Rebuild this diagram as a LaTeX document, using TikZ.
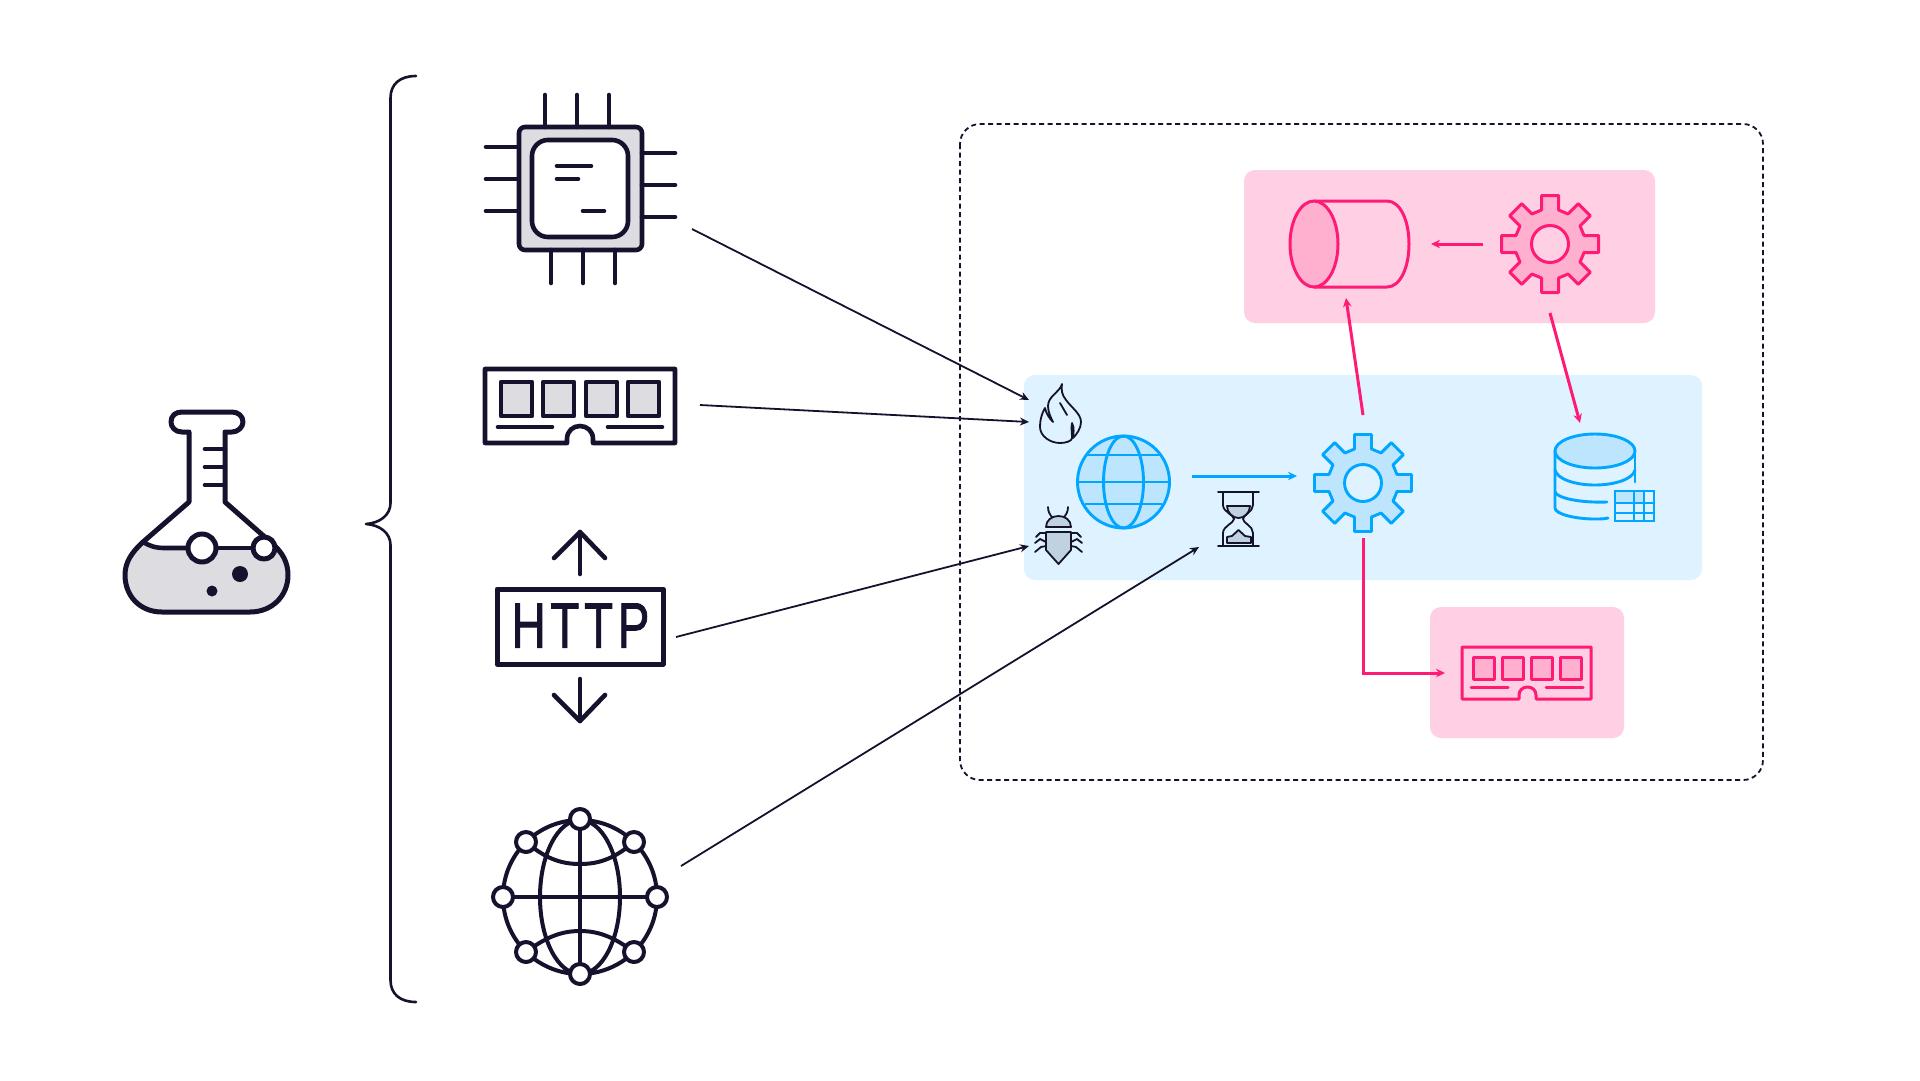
\documentclass[tikz,border=0pt]{standalone}
\usepackage{fontspec}
\setmainfont{Liberation Sans}
\newfontfamily\httpfont[LetterSpace=10,FakeBold=1.5]{Liberation Sans}
\usetikzlibrary{arrows.meta}
\definecolor{ink}{HTML}{15122E}
\definecolor{greyfill}{HTML}{DCDCE1}
\definecolor{bluepanel}{HTML}{DEF2FF}
\definecolor{bluefill}{HTML}{BDE6FE}
\definecolor{blueline}{HTML}{00A6FF}
\definecolor{pinkpanel}{HTML}{FFCFE3}
\definecolor{pinkfill}{HTML}{FFB0CF}
\definecolor{pinkline}{HTML}{FF1A75}
\definecolor{bugfill}{HTML}{C0D2E0}
\tikzset{
  icon/.style={draw=ink,line width=4.6pt,line join=round,line cap=round},
  thin icon/.style={draw=ink,line width=1.8pt,line join=round,line cap=round},
  blue icon/.style={draw=blueline,line width=2.9pt,line join=round},
  pink icon/.style={draw=pinkline,line width=3pt,line join=round},
  flow/.style={draw=ink,line width=1.8pt,-{Stealth[length=9pt,width=8pt]}},
  blue flow/.style={draw=blueline,line width=3pt,-{Stealth[length=9pt,width=8.5pt]}},
  pink flow/.style={draw=pinkline,line width=3pt,-{Stealth[length=9pt,width=8.5pt]}},
  panel/.style={rounded corners=11pt},
}
\newcommand{\gearpath}[2]{% centre x, y
  ([shift={(#1,#2)}]34,-8.5)
  foreach \a in {0,45,...,315}{
    -- ([shift={(#1,#2)},rotate=-\a]34,-8.5) -- ([shift={(#1,#2)},rotate=-\a]48.5,-8.5)
    -- ([shift={(#1,#2)},rotate=-\a]48.5,8.5) -- ([shift={(#1,#2)},rotate=-\a]34,8.5)
  } -- cycle}
\begin{document}
\begin{tikzpicture}[x=1pt,y=-1pt]
\useasboundingbox (0,0) rectangle (1920,1080);
\fill[white] (0,0) rectangle (1920,1080);

% Flask
\fill[greyfill] (143,542) .. controls (150,546) and (155,548) .. (165,548) -- (275,546)
  .. controls (282,553) and (288,562) .. (288,575) .. controls (288,596) and (272,612) .. (250,612)
  -- (162,612) .. controls (140,612) and (125,596) .. (125,575) .. controls (125,562) and (132,552) .. (143,542) -- cycle;
\draw[icon,line width=5pt] (189,432) -- (182,432) .. controls (175,432) and (171,427) .. (171,422)
  .. controls (171,416) and (175,412) .. (182,412) -- (232,412)
  .. controls (238,412) and (243,416) .. (243,422) .. controls (243,427) and (238,432) .. (232,432) -- (225,432)
  -- (225,502) -- (275,546) .. controls (282,553) and (288,562) .. (288,575)
  .. controls (288,596) and (272,612) .. (250,612) -- (162,612)
  .. controls (140,612) and (125,596) .. (125,575) .. controls (125,562) and (132,552) .. (143,542)
  -- (189,502) -- cycle;
\draw[icon] (143,542) .. controls (150,546) and (155,548) .. (165,548) -- (188,548);
\draw[icon] (216,548) -- (253,548);
\foreach \yy in {449,467,485} \draw[icon] (205,\yy) -- (225,\yy);
\draw[icon,fill=white,line width=5pt] (202,548) circle[radius=14];
\draw[icon,fill=white,line width=5pt] (264,548) circle[radius=11];
\fill[ink] (240,574) circle[radius=8];
\fill[ink] (212,591) circle[radius=5.5];

% Brace
\draw[draw=ink,line width=2.6pt,line cap=round,line join=round]
  (416,76) .. controls (400,76) and (390.5,84) .. (390.5,98) -- (390.5,503)
  .. controls (390.5,515) and (380,523) .. (366,524)
  .. controls (380,525) and (390.5,533) .. (390.5,545) -- (390.5,980)
  .. controls (390.5,994) and (400,1002) .. (416,1002);

% CPU
\draw[icon,fill=greyfill,rounded corners=6pt] (519,127) rectangle (642,250);
\foreach \xx in {545,577,609} \draw[icon] (\xx,95) -- (\xx,127);
\foreach \xx in {551,583,615} \draw[icon] (\xx,250) -- (\xx,283);
\foreach \yy in {147,179,211} \draw[icon] (486,\yy) -- (518,\yy);
\foreach \yy in {153,185,217} \draw[icon] (642,\yy) -- (675,\yy);
\draw[icon,fill=white,rounded corners=16pt] (532,140) rectangle (628,237);
\draw[icon] (557,166) -- (591,166);
\draw[icon] (557,179) -- (578,179);
\draw[icon] (583,211) -- (604,211);

% RAM
\draw[icon,fill=white] (485,369) -- (675,369) -- (675,443) -- (593,443) -- (593,439)
  .. controls (593,431) and (587,426) .. (580,426) .. controls (573,426) and (567,431) .. (567,439)
  -- (567,443) -- (485,443) -- cycle;
\foreach \xx in {501,543,586,628} \draw[icon,fill=greyfill] (\xx,382) rectangle ++(31,34);
\draw[icon] (498,427) -- (552,427);
\draw[icon] (608,427) -- (662,427);

% HTTP
\draw[icon,line width=5pt,line cap=butt] (497,589) rectangle (663,664);
\node[inner sep=0pt,outer sep=0pt,text=ink,xscale=0.74,font=\httpfont\fontsize{64}{64}\selectfont] (httplabel) at (580.5,625.5) {HTTP};
\draw[icon] (580,574) -- (580,532);
\draw[icon] (554,558) -- (580,532) -- (605,558);
\draw[icon] (580,679) -- (580,721);
\draw[icon] (554,695) -- (580,721) -- (605,695);

% Network globe
\begin{scope}[icon,line width=4pt]
\draw (580,897) circle[radius=77];
\draw (580,897) ellipse[x radius=40,y radius=77];
\draw (503,897) -- (657,897);
\draw (580,819) -- (580,974);
\draw (526,842) .. controls (545,858) and (560,864) .. (580,864) .. controls (600,864) and (615,858) .. (634,842);
\draw (526,952) .. controls (545,938) and (560,931) .. (580,931) .. controls (600,931) and (615,938) .. (634,952);
\foreach \p in {(580,819),(580,974),(503,897),(657,897),(526,842),(634,842),(526,952),(634,952)}
  \draw[fill=white] \p circle[radius=10];
\end{scope}

% Dashed container
\draw[draw=ink,line width=1.8pt,dash pattern=on 5pt off 3.5pt,rounded corners=20pt] (960,124) rectangle (1763,780);

% Panels
\fill[bluepanel,panel] (1024,375) rectangle (1702,580);
\fill[pinkpanel,panel] (1244,170) rectangle (1655,323);
\fill[pinkpanel,panel] (1430,607) rectangle (1624,738);

% Flame
\draw[thin icon,fill=bluepanel] (1062,384)
  .. controls (1060,392) and (1048,396) .. (1048,406)
  .. controls (1048,412) and (1051,418) .. (1053,422)
  .. controls (1049,418) and (1046,413) .. (1045,408)
  .. controls (1041,415) and (1040,421) .. (1040,427)
  .. controls (1040,436) and (1050,443) .. (1060,443)
  .. controls (1066,443) and (1072,441) .. (1072,438)
  .. controls (1072,432) and (1071,428) .. (1072,423)
  .. controls (1075,428) and (1073,434) .. (1073,438)
  .. controls (1077,434) and (1081,428) .. (1081,422)
  .. controls (1081,414) and (1072,408) .. (1066,400)
  .. controls (1062,395) and (1061,390) .. (1062,384) -- cycle;
\draw[thin icon] (1060,403) -- (1067,415);

% Bug
\draw[thin icon] (1048,507) .. controls (1048,512) and (1050,515) .. (1053,518);
\draw[thin icon] (1068,507) .. controls (1068,512) and (1066,515) .. (1063,518);
\draw[thin icon] (1046,533) -- (1040,533) -- (1036,537);
\draw[thin icon] (1071,533) -- (1077,533) -- (1081,537);
\draw[thin icon] (1046,542) -- (1040,539) -- (1035,543);
\draw[thin icon] (1071,542) -- (1077,539) -- (1082,543);
\draw[thin icon] (1046,546) -- (1041,547) -- (1035,552);
\draw[thin icon] (1071,546) -- (1076,547) -- (1082,552);
\draw[thin icon,fill=bugfill] (1046,527) .. controls (1046,520) and (1052,516) .. (1058.5,516)
  .. controls (1065,516) and (1071,520) .. (1071,527) -- cycle;
\draw[thin icon,fill=bugfill] (1046,532) -- (1071,532) -- (1071,550) -- (1058.5,564) -- (1046,550) -- cycle;

% Hourglass
\draw[thin icon,fill=bugfill] (1227,506) -- (1250,506) .. controls (1250,513) and (1244,518) .. (1238.5,518)
  .. controls (1233,518) and (1227,513) .. (1227,506) -- cycle;
\draw[thin icon,fill=bugfill] (1227,537) -- (1232,536) -- (1238.5,530) -- (1245,536) -- (1251,537) -- (1251,543) -- (1227,543) -- cycle;
\draw[thin icon] (1218,492) -- (1259,492);
\draw[thin icon] (1218,546) -- (1259,546);
\draw[thin icon] (1223,492) -- (1223,505) .. controls (1223,512) and (1234,515) .. (1234,519)
  .. controls (1234,523) and (1223,526) .. (1223,533) -- (1223,546);
\draw[thin icon] (1253,492) -- (1253,505) .. controls (1253,512) and (1243,515) .. (1243,519)
  .. controls (1243,523) and (1253,526) .. (1253,533) -- (1253,546);

% Web globe
\draw[blue icon,fill=bluefill] (1123.5,482) circle[radius=46];
\draw[blue icon] (1123.5,482) ellipse[x radius=20,y radius=46];
\draw[blue icon] (1077.5,482) -- (1169.5,482);
\draw[blue icon] (1087,455) -- (1160,455);
\draw[blue icon] (1085,504) -- (1162,504);

% Blue gear
\draw[blue icon,fill=bluefill] \gearpath{1363}{483};
\draw[blue icon,fill=bluepanel] (1363,483) circle[radius=18.5];

% Database
\draw[blue icon,line cap=round] (1555,451) -- (1555,508) .. controls (1555,514) and (1575,519) .. (1595,519) .. controls (1600,519) and (1604,519) .. (1608,518);
\draw[blue icon,line cap=round] (1635,451) -- (1635,482);
\draw[blue icon,line cap=round] (1555,470) .. controls (1557,479) and (1575,485) .. (1595,485) .. controls (1615,485) and (1633,479) .. (1635,470);
\draw[blue icon,line cap=round] (1555,492) .. controls (1557,498) and (1580,503) .. (1607,502);
\draw[blue icon,fill=bluefill] (1595,451) ellipse[x radius=40,y radius=17];
\fill[bluefill] (1615,491) rectangle (1644,503);
\draw[draw=blueline,line width=2.8pt] (1615,491) rectangle (1654,521);
\draw[draw=blueline,line width=2.6pt] (1634,491) -- (1634,521) (1644,491) -- (1644,521) (1615,503) -- (1654,503) (1615,513) -- (1654,513);

% Cylinder
\draw[pink icon] (1314,201) -- (1387,201) .. controls (1400,201) and (1409,220) .. (1409,244)
  .. controls (1409,268) and (1400,287) .. (1387,287) -- (1314,287);
\draw[pink icon,fill=pinkfill] (1314,244) ellipse[x radius=24,y radius=43];

% Pink gear
\draw[pink icon,fill=pinkfill] \gearpath{1550}{244};
\draw[pink icon,fill=pinkpanel] (1550,244) circle[radius=18.5];

% Pink RAM
\draw[pink icon] (1462,647) -- (1591,647) -- (1591,699) -- (1536,699) -- (1536,695)
  .. controls (1536,690) and (1532,687) .. (1527.5,687) .. controls (1523,687) and (1519,690) .. (1519,695)
  -- (1519,699) -- (1462,699) -- cycle;
\foreach \xx in {1473,1502,1531,1560} \draw[pink icon,fill=pinkfill] (\xx,657) rectangle ++(21,22);
\draw[pink icon,line cap=round] (1471,687) -- (1508,687);
\draw[pink icon,line cap=round] (1546,687) -- (1583,687);

% Connector ends
\coordinate (cpuOut) at (692,229);
\coordinate (ramOut) at (700,405);
\coordinate (httpOut) at (676,637);
\coordinate (netOut) at (681,866);
\coordinate (fireIn) at (1029,400);
\coordinate (ramIn) at (1029,422);
\coordinate (bugIn) at (1029,546);
\coordinate (sandIn) at (1199,547);
\coordinate (webOut) at (1192,476);
\coordinate (appIn) at (1297,476);
\coordinate (appUp) at (1363,415);
\coordinate (cylIn) at (1346,298);
\coordinate (jobOut) at (1483,244);
\coordinate (cylSide) at (1431,244);
\coordinate (jobDown) at (1550,313);
\coordinate (dbIn) at (1580,423);
\coordinate (appDown) at (1363,538);
\coordinate (memIn) at (1445,673);

\draw[flow] (cpuOut) -- (fireIn);
\draw[flow] (ramOut) -- (ramIn);
\draw[flow] (httpOut) -- (bugIn);
\draw[flow] (netOut) -- (sandIn);
\draw[blue flow] (webOut) -- (appIn);
\draw[pink flow] (appUp) -- (cylIn);
\draw[pink flow] (jobOut) -- (cylSide);
\draw[pink flow] (jobDown) -- (dbIn);
\draw[pink flow] (appDown) |- (memIn);
\end{tikzpicture}
\end{document}
